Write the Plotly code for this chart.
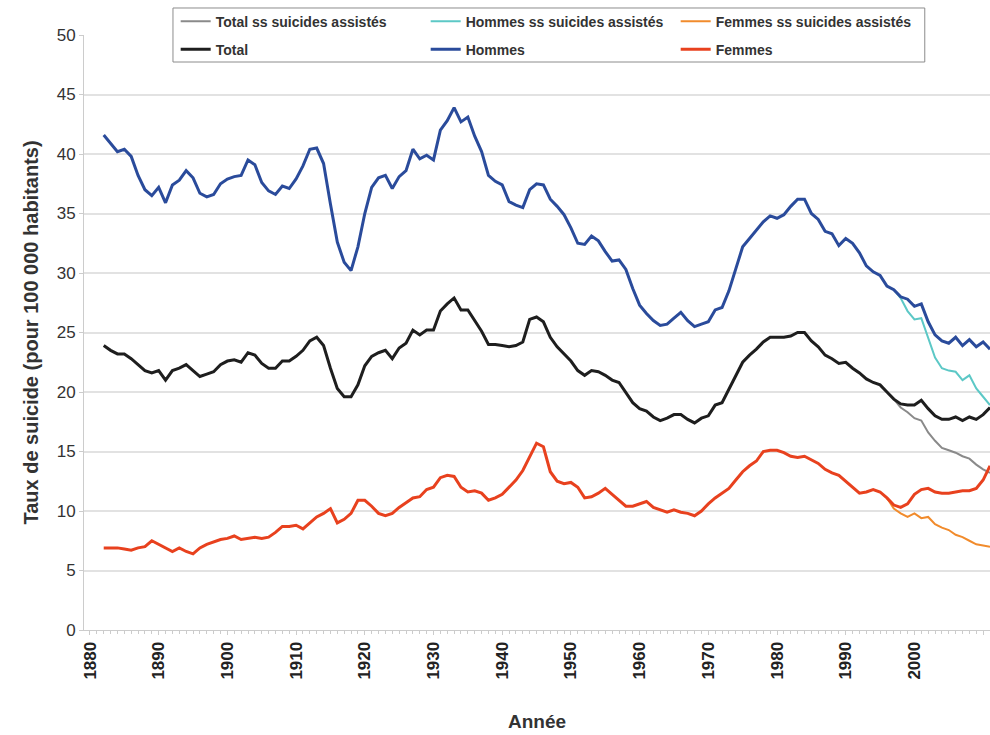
import plotly.graph_objects as go

# --- DATA (taux de suicide pour 100 000 habitants) ---
years = list(range(1882, 2012))

hommes = [
    41.6, 40.9, 40.2, 40.4, 39.8, 38.2, 37.0, 36.5, 37.2, 35.9,
    37.4, 37.8, 38.6, 38.0, 36.7, 36.4, 36.6, 37.5, 37.9, 38.1,
    38.2, 39.5, 39.1, 37.6, 36.9, 36.6, 37.3, 37.1, 37.9, 39.0,
    40.4, 40.5, 39.2, 35.8, 32.6, 30.9, 30.2, 32.2, 35.0, 37.2,
    38.0, 38.2, 37.1, 38.1, 38.6, 40.4, 39.6, 39.9, 39.5, 42.0,
    42.8, 43.9, 42.7, 43.1, 41.5, 40.2, 38.2, 37.7, 37.4, 36.0,
    35.7, 35.5, 37.0, 37.5, 37.4, 36.2, 35.6, 34.9, 33.8, 32.5,
    32.4, 33.1, 32.7, 31.8, 31.0, 31.1, 30.3, 28.7, 27.3, 26.6,
    26.0, 25.6, 25.7, 26.2, 26.7, 26.0, 25.5, 25.7, 25.9, 26.9,
    27.1, 28.5, 30.3, 32.2, 32.9, 33.6, 34.3, 34.8, 34.6, 34.9,
    35.6, 36.2, 36.2, 35.0, 34.5, 33.5, 33.3, 32.3, 32.9, 32.5,
    31.7, 30.6, 30.1, 29.8, 28.9, 28.6, 28.0, 27.8, 27.2, 27.4,
    25.9, 24.8, 24.3, 24.1, 24.6, 23.9, 24.4, 23.8, 24.2, 23.6,
]

total = [
    23.9, 23.5, 23.2, 23.2, 22.8, 22.3, 21.8, 21.6, 21.8, 21.0,
    21.8, 22.0, 22.3, 21.8, 21.3, 21.5, 21.7, 22.3, 22.6, 22.7,
    22.5, 23.3, 23.1, 22.4, 22.0, 22.0, 22.6, 22.6, 23.0, 23.5,
    24.3, 24.6, 23.9, 22.0, 20.3, 19.6, 19.6, 20.6, 22.2, 23.0,
    23.3, 23.5, 22.8, 23.7, 24.1, 25.2, 24.8, 25.2, 25.2, 26.8,
    27.4, 27.9, 26.9, 26.9, 26.0, 25.1, 24.0, 24.0, 23.9, 23.8,
    23.9, 24.2, 26.1, 26.3, 25.9, 24.6, 23.8, 23.2, 22.6, 21.8,
    21.4, 21.8, 21.7, 21.4, 21.0, 20.8, 20.0, 19.1, 18.6, 18.4,
    17.9, 17.6, 17.8, 18.1, 18.1, 17.7, 17.4, 17.8, 18.0, 18.9,
    19.1, 20.2, 21.4, 22.5, 23.1, 23.6, 24.2, 24.6, 24.6, 24.6,
    24.7, 25.0, 25.0, 24.3, 23.8, 23.1, 22.8, 22.4, 22.5, 22.0,
    21.6, 21.1, 20.8, 20.6, 20.0, 19.4, 19.0, 18.9, 18.9, 19.3,
    18.6, 18.0, 17.7, 17.7, 17.9, 17.6, 17.9, 17.7, 18.1, 18.7,
]

femmes = [
    6.9, 6.9, 6.9, 6.8, 6.7, 6.9, 7.0, 7.5, 7.2, 6.9,
    6.6, 6.9, 6.6, 6.4, 6.9, 7.2, 7.4, 7.6, 7.7, 7.9,
    7.6, 7.7, 7.8, 7.7, 7.8, 8.2, 8.7, 8.7, 8.8, 8.5,
    9.0, 9.5, 9.8, 10.2, 9.0, 9.3, 9.8, 10.9, 10.9, 10.4,
    9.8, 9.6, 9.8, 10.3, 10.7, 11.1, 11.2, 11.8, 12.0, 12.8,
    13.0, 12.9, 12.0, 11.6, 11.7, 11.5, 10.9, 11.1, 11.4, 12.0,
    12.6, 13.4, 14.6, 15.7, 15.4, 13.3, 12.5, 12.3, 12.4, 12.0,
    11.1, 11.2, 11.5, 11.9, 11.4, 10.9, 10.4, 10.4, 10.6, 10.8,
    10.3, 10.1, 9.9, 10.1, 9.9, 9.8, 9.6, 10.0, 10.6, 11.1,
    11.5, 11.9, 12.6, 13.3, 13.8, 14.2, 15.0, 15.1, 15.1, 14.9,
    14.6, 14.5, 14.6, 14.3, 14.0, 13.5, 13.2, 13.0, 12.5, 12.0,
    11.5, 11.6, 11.8, 11.6, 11.1, 10.5, 10.3, 10.6, 11.4, 11.8,
    11.9, 11.6, 11.5, 11.5, 11.6, 11.7, 11.7, 11.9, 12.6, 13.8,
]

# series without assisted suicides (only differ from ~1997 on)
years_ss = list(range(1997, 2012))
total_ss = [19.4, 18.7, 18.3, 17.8, 17.6, 16.6, 15.9, 15.3, 15.1, 14.9, 14.6, 14.4, 13.9, 13.5, 13.2]
hommes_ss = [28.6, 27.9, 26.8, 26.1, 26.2, 24.6, 22.9, 22.0, 21.8, 21.7, 21.0, 21.4, 20.3, 19.6, 18.9]
years_f_ss = list(range(1996, 2012))
femmes_ss = [11.1, 10.2, 9.8, 9.5, 9.8, 9.4, 9.5, 8.9, 8.6, 8.4, 8.0, 7.8, 7.5, 7.2, 7.1, 7.0]

x_ticks = list(range(1880, 2020, 10))
y_ticks = list(range(0, 55, 5))

fig = go.Figure()

# thin lines first so they sit under the main series; they make the legend's top row
fig.add_trace(go.Scatter(x=years_ss, y=total_ss, name="Total ss suicides assistés",
                         mode="lines", line=dict(color="#8a8a8a", width=2), legend="legend"))
fig.add_trace(go.Scatter(x=years_ss, y=hommes_ss, name="Hommes ss suicides assistés",
                         mode="lines", line=dict(color="#5cc8c6", width=2), legend="legend"))
fig.add_trace(go.Scatter(x=years_f_ss, y=femmes_ss, name="Femmes ss suicides assistés",
                         mode="lines", line=dict(color="#f18b2c", width=2), legend="legend"))

fig.add_trace(go.Scatter(x=years, y=total, name="Total",
                         mode="lines", line=dict(color="#1e1e1e", width=3), legend="legend2"))
fig.add_trace(go.Scatter(x=years, y=hommes, name="Hommes",
                         mode="lines", line=dict(color="#2a4b9b", width=3), legend="legend2"))
fig.add_trace(go.Scatter(x=years, y=femmes, name="Femmes",
                         mode="lines", line=dict(color="#e8411e", width=3), legend="legend2"))

legend_font = dict(size=14, color="#333", family="Liberation Sans, Arial, sans-serif", weight="bold")
legend_common = dict(
    orientation="h",
    x=0.1012, xanchor="left", yanchor="top",
    entrywidth=205, entrywidthmode="pixels",
    bgcolor="rgba(0,0,0,0)",
    borderwidth=0,
    font=legend_font,
)

fig.update_layout(
    width=990,
    height=735,
    margin=dict(l=84, r=0, t=35, b=105),
    paper_bgcolor="white",
    plot_bgcolor="white",
    font=dict(family="Liberation Sans, Arial, sans-serif", color="#222"),
    showlegend=True,
    legend=dict(y=1.0494, **legend_common),
    legend2=dict(y=1.0024, **legend_common),
    # box around both legend rows
    shapes=[dict(type="rect", xref="paper", yref="paper",
                 x0=0.0982, x1=0.928, y0=0.9546, y1=1.0454,
                 line=dict(color="#8c8c8c", width=1), fillcolor="white", layer="above")],
)

fig.update_xaxes(
    range=[1879.13, 2011.0],
    tickvals=x_ticks,
    tickangle=-90,
    tickfont=dict(size=17, color="#222", weight="bold"),
    showgrid=False,
    showline=True, linecolor="#cccccc", linewidth=1,
    ticks="outside", ticklen=4, tickcolor="#cccccc",
    minor=dict(dtick=1, tick0=1880, ticks="outside", ticklen=3, tickcolor="#cccccc"),
    title=dict(text="Année", font=dict(size=19, color="#333", weight="bold"), standoff=36),
    zeroline=False,
)

fig.update_yaxes(
    range=[0, 50],
    tickvals=y_ticks,
    tickfont=dict(size=17, color="#333"),
    showgrid=True, gridcolor="#e2e2e2", gridwidth=2,
    showline=True, linecolor="#cccccc", linewidth=1,
    ticks="outside", ticklen=4, tickcolor="#cccccc",
    title=dict(text="Taux de suicide (pour 100 000 habitants)",
               font=dict(size=20, color="#333", weight="bold"), standoff=12),
    zeroline=False,
)

fig.write_html("out.html", config={"displayModeBar": False},
               post_script="document.body.style.margin='0';")
